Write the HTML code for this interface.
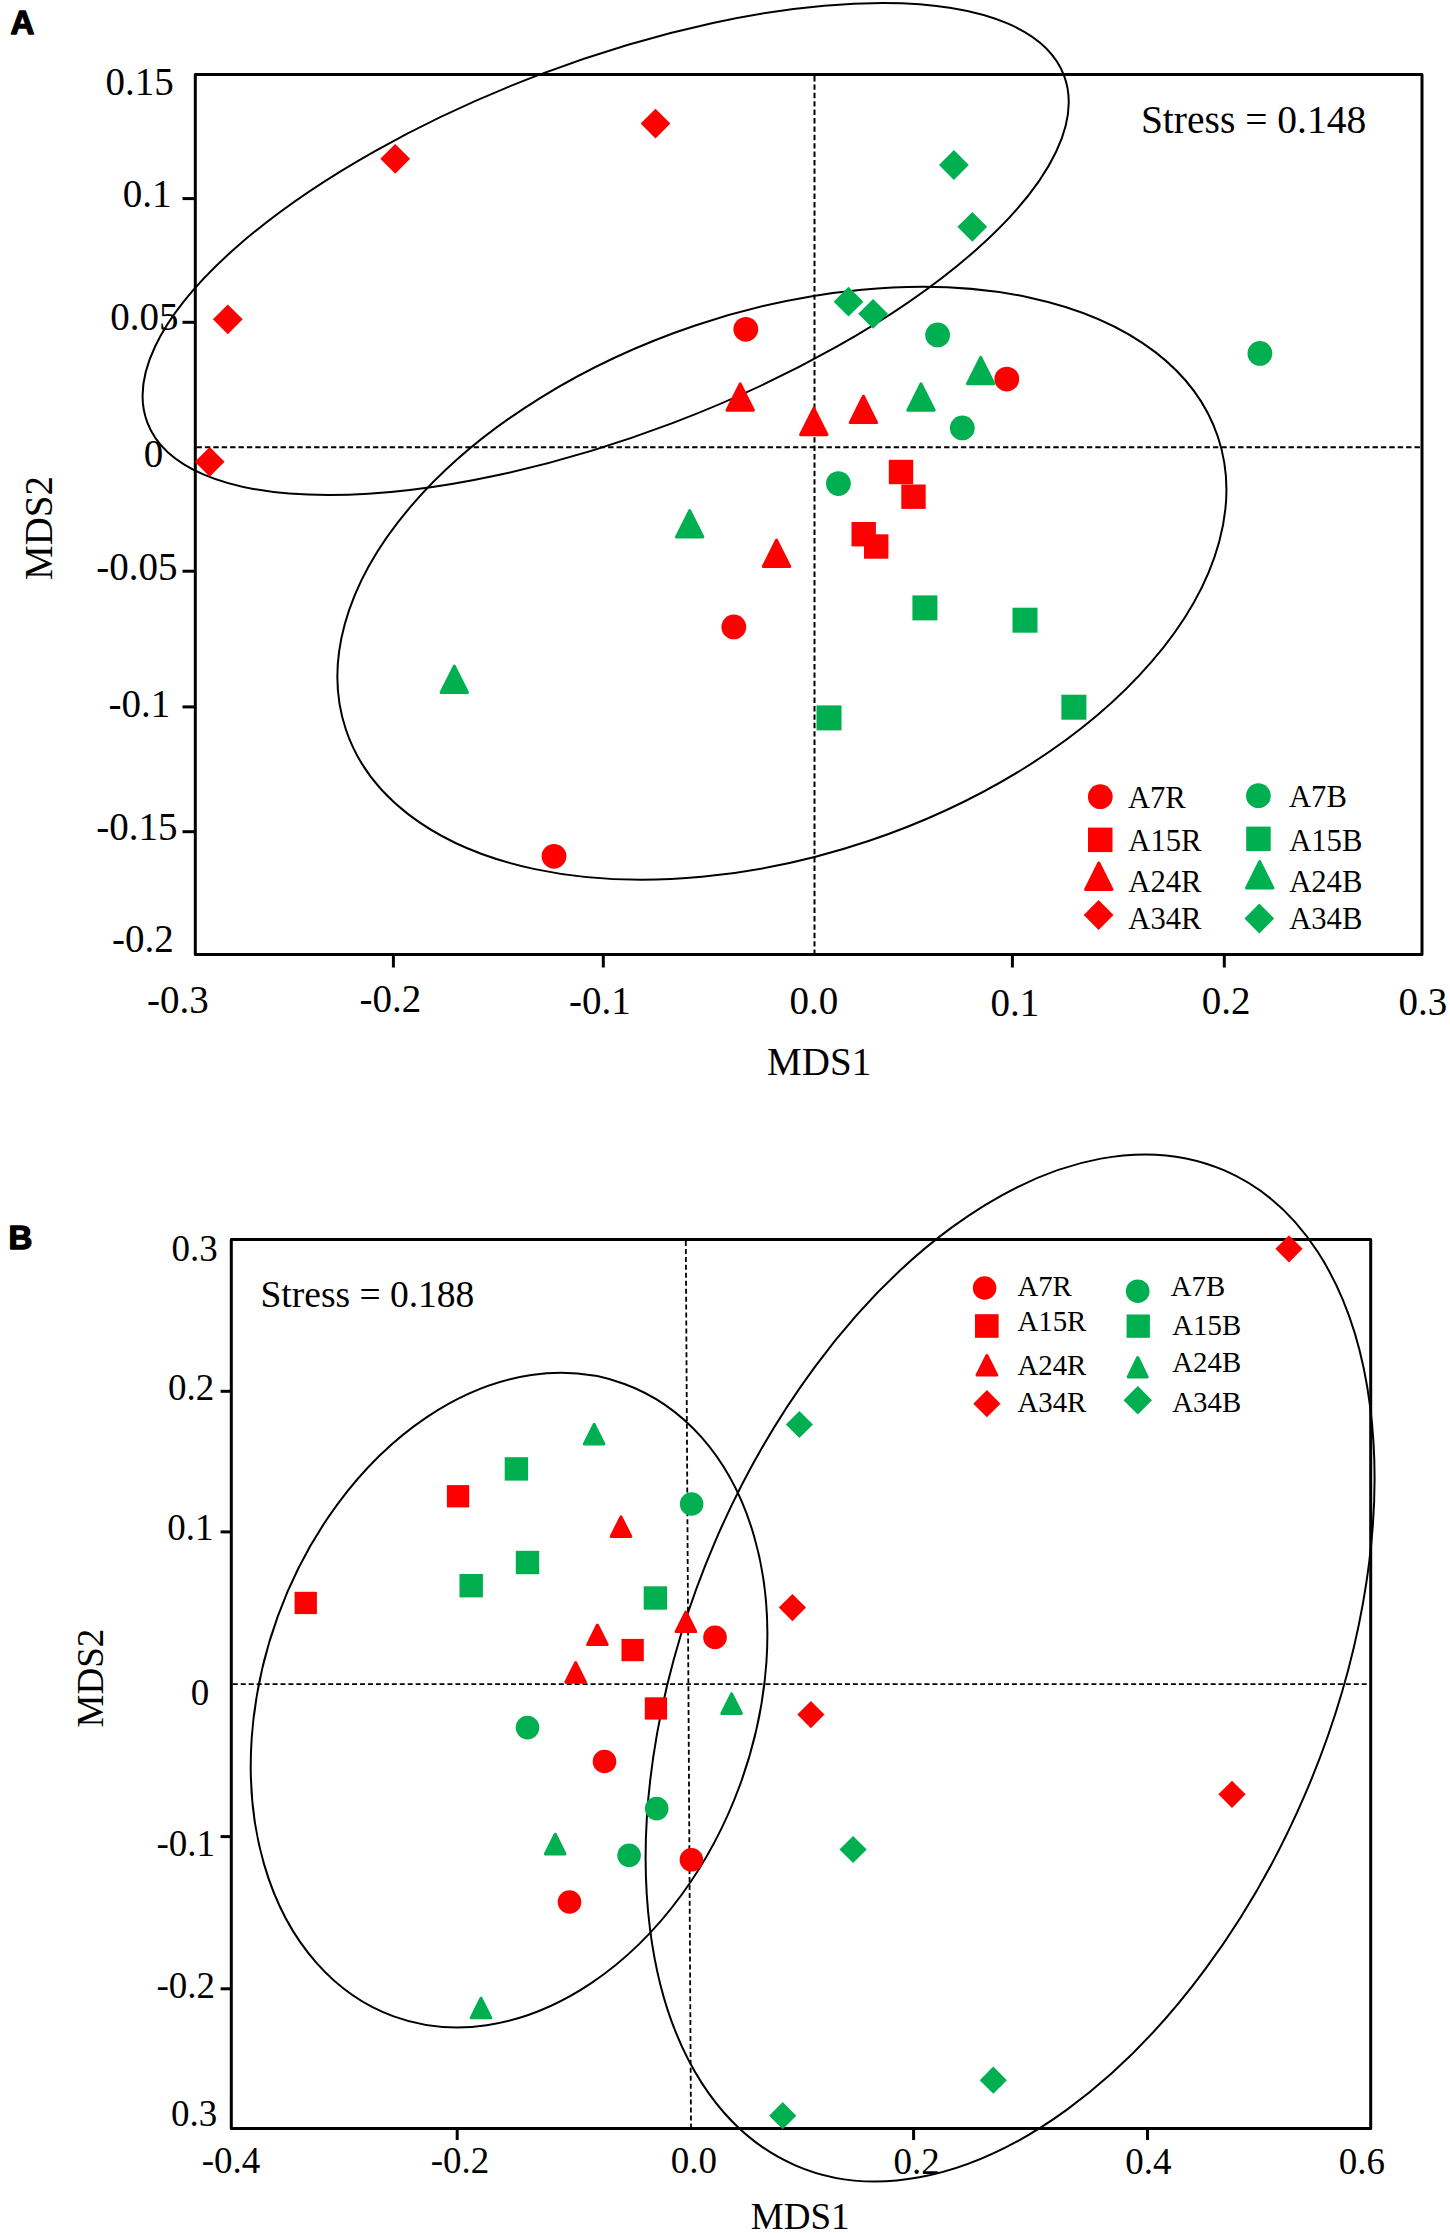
<!DOCTYPE html>
<html><head><meta charset="utf-8"><style>html,body{margin:0;padding:0;background:#fff;}svg{display:block;}</style></head>
<body><svg xmlns="http://www.w3.org/2000/svg" width="1450" height="2233" viewBox="0 0 1450 2233">
<rect width="1450" height="2233" fill="#fff"/>
<text x="10.5" y="33.6" font-family="Liberation Sans" font-size="33" font-weight="bold" stroke="#000" stroke-width="1.4" stroke-linejoin="round">A</text>
<line x1="814.5" y1="76" x2="814.5" y2="953" stroke="#000" stroke-width="2" stroke-dasharray="5.4 3.0"/>
<line x1="196.5" y1="447.3" x2="1420.5" y2="447.3" stroke="#000" stroke-width="2" stroke-dasharray="5.4 3.0"/>
<ellipse cx="605.66" cy="248.99" rx="490.09" ry="186.5" transform="rotate(-20.752 605.66 248.99)" fill="none" stroke="#000" stroke-width="2.0"/>
<ellipse cx="781.9" cy="583.26" rx="459.92" ry="271.92" transform="rotate(-18.576 781.9 583.26)" fill="none" stroke="#000" stroke-width="2.0"/>
<rect x="195.3" y="74.5" width="1226.7" height="880" fill="none" stroke="#000" stroke-width="3" stroke-linejoin="round"/>
<line x1="182.5" y1="198.6" x2="195.3" y2="198.6" stroke="#000" stroke-width="3"/>
<line x1="182.5" y1="322.3" x2="195.3" y2="322.3" stroke="#000" stroke-width="3"/>
<line x1="182.5" y1="571.2" x2="195.3" y2="571.2" stroke="#000" stroke-width="3"/>
<line x1="182.5" y1="706.9" x2="195.3" y2="706.9" stroke="#000" stroke-width="3"/>
<line x1="182.5" y1="831.7" x2="195.3" y2="831.7" stroke="#000" stroke-width="3"/>
<line x1="393.4" y1="954.5" x2="393.4" y2="967.5" stroke="#000" stroke-width="3"/>
<line x1="603.3" y1="954.5" x2="603.3" y2="967.5" stroke="#000" stroke-width="3"/>
<line x1="1012.4" y1="954.5" x2="1012.4" y2="967.5" stroke="#000" stroke-width="3"/>
<line x1="1224.3" y1="954.5" x2="1224.3" y2="967.5" stroke="#000" stroke-width="3"/>
<text x="105.6" y="94.8" font-family="Liberation Serif" font-size="39" font-weight="normal">0.15</text>
<text x="122.8" y="207.2" font-family="Liberation Serif" font-size="39" font-weight="normal">0.1</text>
<text x="110.3" y="330.2" font-family="Liberation Serif" font-size="39" font-weight="normal">0.05</text>
<text x="143.8" y="466.5" font-family="Liberation Serif" font-size="39" font-weight="normal">0</text>
<text x="96.2" y="580.0" font-family="Liberation Serif" font-size="39" font-weight="normal">-0.05</text>
<text x="108.5" y="716.6" font-family="Liberation Serif" font-size="39" font-weight="normal">-0.1</text>
<text x="96.2" y="840.0" font-family="Liberation Serif" font-size="39" font-weight="normal">-0.15</text>
<text x="112.0" y="951.5" font-family="Liberation Serif" font-size="39" font-weight="normal">-0.2</text>
<text x="147.0" y="1012.8" font-family="Liberation Serif" font-size="39" font-weight="normal">-0.3</text>
<text x="359.5" y="1011.8" font-family="Liberation Serif" font-size="39" font-weight="normal">-0.2</text>
<text x="569.0" y="1014.1" font-family="Liberation Serif" font-size="39" font-weight="normal">-0.1</text>
<text x="789.6" y="1013.9" font-family="Liberation Serif" font-size="39" font-weight="normal">0.0</text>
<text x="990.6" y="1015.6" font-family="Liberation Serif" font-size="39" font-weight="normal">0.1</text>
<text x="1201.7" y="1014.2" font-family="Liberation Serif" font-size="39" font-weight="normal">0.2</text>
<text x="1398.5" y="1014.8" font-family="Liberation Serif" font-size="39" font-weight="normal">0.3</text>
<text x="767.1" y="1075.2" font-family="Liberation Serif" font-size="39" font-weight="normal">MDS1</text>
<text transform="translate(39.6,528.5) rotate(-90)" x="-51.5" y="12.6" font-family="Liberation Serif" font-size="39">MDS2</text>
<text x="1140.9" y="133.3" font-family="Liberation Serif" font-size="39.5" font-weight="normal">Stress = 0.148</text>
<path d="M395.2,143.9L410.1,158.8L395.2,173.7L380.3,158.8Z" fill="#ff0000"/>
<path d="M655.5,108.7L670.4,123.6L655.5,138.5L640.6,123.6Z" fill="#ff0000"/>
<path d="M227.8,304.4L242.7,319.3L227.8,334.2L212.9,319.3Z" fill="#ff0000"/>
<path d="M209.7,446.9L224.6,461.8L209.7,476.7L194.8,461.8Z" fill="#ff0000"/>
<circle cx="745.8" cy="329.3" r="12.4" fill="#ff0000"/>
<circle cx="1006.8" cy="379.1" r="12.4" fill="#ff0000"/>
<circle cx="733.8" cy="626.9" r="12.4" fill="#ff0000"/>
<circle cx="554" cy="856.3" r="12.4" fill="#ff0000"/>
<path d="M740.2,383.8L753.4,410.2L727.0,410.2Z" fill="#ff0000" stroke="#ff0000" stroke-width="3" stroke-linejoin="round"/>
<path d="M863.4,396.2L876.6,422.6L850.2,422.6Z" fill="#ff0000" stroke="#ff0000" stroke-width="3" stroke-linejoin="round"/>
<path d="M813.8,408.3L827.0,434.7L800.6,434.7Z" fill="#ff0000" stroke="#ff0000" stroke-width="3" stroke-linejoin="round"/>
<path d="M776.5,540.1L789.7,566.5L763.3,566.5Z" fill="#ff0000" stroke="#ff0000" stroke-width="3" stroke-linejoin="round"/>
<rect x="888.8" y="459.8" width="24.4" height="24.4" fill="#ff0000"/>
<rect x="901.3" y="484.5" width="24.4" height="24.4" fill="#ff0000"/>
<rect x="851.5" y="522.0" width="24.4" height="24.4" fill="#ff0000"/>
<rect x="864.0" y="534.3" width="24.4" height="24.4" fill="#ff0000"/>
<path d="M953.9,150.1L968.8,165.0L953.9,179.9L939.0,165.0Z" fill="#00b050"/>
<path d="M972.3,211.9L987.2,226.8L972.3,241.7L957.4,226.8Z" fill="#00b050"/>
<path d="M848.5,286.8L863.4,301.7L848.5,316.6L833.6,301.7Z" fill="#00b050"/>
<path d="M873.1,298.9L888.0,313.8L873.1,328.7L858.2,313.8Z" fill="#00b050"/>
<circle cx="937.6" cy="334.9" r="12.4" fill="#00b050"/>
<circle cx="1259.9" cy="353.4" r="12.4" fill="#00b050"/>
<circle cx="962.3" cy="427.9" r="12.4" fill="#00b050"/>
<circle cx="838.4" cy="483.6" r="12.4" fill="#00b050"/>
<path d="M980.7,357.3L993.9,383.7L967.5,383.7Z" fill="#00b050" stroke="#00b050" stroke-width="3" stroke-linejoin="round"/>
<path d="M921.0,383.8L934.2,410.2L907.8,410.2Z" fill="#00b050" stroke="#00b050" stroke-width="3" stroke-linejoin="round"/>
<path d="M689.7,510.6L702.9,537.0L676.5,537.0Z" fill="#00b050" stroke="#00b050" stroke-width="3" stroke-linejoin="round"/>
<path d="M454.3,666.1L467.5,692.5L441.1,692.5Z" fill="#00b050" stroke="#00b050" stroke-width="3" stroke-linejoin="round"/>
<rect x="912.4" y="595.4" width="25" height="25" fill="#00b050"/>
<rect x="1012.5" y="607.7" width="25" height="25" fill="#00b050"/>
<rect x="816.5" y="705.4" width="25" height="25" fill="#00b050"/>
<rect x="1061.4" y="694.7" width="25" height="25" fill="#00b050"/>
<circle cx="1100.3" cy="796.7" r="12.4" fill="#ff0000"/>
<circle cx="1258.4" cy="795.7" r="12.4" fill="#00b050"/>
<rect x="1088.0" y="827.6" width="24.5" height="24.5" fill="#ff0000"/>
<rect x="1246.2" y="826.6" width="24.5" height="24.5" fill="#00b050"/>
<path d="M1098.8,863.0L1112.0,889.4L1085.6,889.4Z" fill="#ff0000" stroke="#ff0000" stroke-width="3" stroke-linejoin="round"/>
<path d="M1259.7,861.6L1272.9,888.0L1246.5,888.0Z" fill="#00b050" stroke="#00b050" stroke-width="3" stroke-linejoin="round"/>
<path d="M1098.6,900.1L1113.5,915.0L1098.6,929.9L1083.7,915.0Z" fill="#ff0000"/>
<path d="M1259.3,903.6L1274.2,918.5L1259.3,933.4L1244.4,918.5Z" fill="#00b050"/>
<text x="1127.9" y="808.2" font-family="Liberation Serif" font-size="30.6" font-weight="normal">A7R</text>
<text x="1128.3" y="850.7" font-family="Liberation Serif" font-size="30.6" font-weight="normal">A15R</text>
<text x="1128.3" y="891.7" font-family="Liberation Serif" font-size="30.6" font-weight="normal">A24R</text>
<text x="1128.3" y="929.3" font-family="Liberation Serif" font-size="30.6" font-weight="normal">A34R</text>
<text x="1289.0" y="806.8" font-family="Liberation Serif" font-size="30.6" font-weight="normal">A7B</text>
<text x="1289.2" y="850.7" font-family="Liberation Serif" font-size="30.6" font-weight="normal">A15B</text>
<text x="1289.2" y="891.7" font-family="Liberation Serif" font-size="30.6" font-weight="normal">A24B</text>
<text x="1289.2" y="929.3" font-family="Liberation Serif" font-size="30.6" font-weight="normal">A34B</text>
<text x="8.4" y="1248.9" font-family="Liberation Sans" font-size="33" font-weight="bold" stroke="#000" stroke-width="1.4" stroke-linejoin="round">B</text>
<line x1="685.8" y1="1241" x2="691" y2="2127" stroke="#000" stroke-width="1.8" stroke-dasharray="5.0 2.95"/>
<line x1="232.8" y1="1684.2" x2="1369" y2="1684.2" stroke="#000" stroke-width="1.8" stroke-dasharray="5.0 2.95"/>
<ellipse cx="509.06" cy="1700.17" rx="246.01" ry="336.62" transform="rotate(-159.948 509.06 1700.17)" fill="none" stroke="#000" stroke-width="2.0"/>
<ellipse cx="1010.09" cy="1667.98" rx="541.76" ry="320.93" transform="rotate(-66.7 1010.09 1667.98)" fill="none" stroke="#000" stroke-width="2.0"/>
<rect x="231.3" y="1239.6" width="1139.4" height="889" fill="none" stroke="#000" stroke-width="3" stroke-linejoin="round"/>
<line x1="220.6" y1="1391.3" x2="231.3" y2="1391.3" stroke="#000" stroke-width="3"/>
<line x1="220.6" y1="1531.9" x2="231.3" y2="1531.9" stroke="#000" stroke-width="3"/>
<line x1="220.6" y1="1836.6" x2="231.3" y2="1836.6" stroke="#000" stroke-width="3"/>
<line x1="220.6" y1="1988.8" x2="231.3" y2="1988.8" stroke="#000" stroke-width="3"/>
<line x1="457.2" y1="2128.6" x2="457.2" y2="2140" stroke="#000" stroke-width="3"/>
<line x1="913.6" y1="2128.6" x2="913.6" y2="2140" stroke="#000" stroke-width="3"/>
<line x1="1147.5" y1="2128.6" x2="1147.5" y2="2140" stroke="#000" stroke-width="3"/>
<text x="171.5" y="1260.5" font-family="Liberation Serif" font-size="37" font-weight="normal">0.3</text>
<text x="168.1" y="1400.1" font-family="Liberation Serif" font-size="37" font-weight="normal">0.2</text>
<text x="167.2" y="1540.0" font-family="Liberation Serif" font-size="37" font-weight="normal">0.1</text>
<text x="190.8" y="1705.2" font-family="Liberation Serif" font-size="37" font-weight="normal">0</text>
<text x="156.4" y="1855.7" font-family="Liberation Serif" font-size="37" font-weight="normal">-0.1</text>
<text x="156.4" y="1998.2" font-family="Liberation Serif" font-size="37" font-weight="normal">-0.2</text>
<text x="171.0" y="2126.4" font-family="Liberation Serif" font-size="37" font-weight="normal">0.3</text>
<text x="201.8" y="2173.1" font-family="Liberation Serif" font-size="37" font-weight="normal">-0.4</text>
<text x="430.8" y="2173.1" font-family="Liberation Serif" font-size="37" font-weight="normal">-0.2</text>
<text x="670.8" y="2173.1" font-family="Liberation Serif" font-size="37" font-weight="normal">0.0</text>
<text x="893.6" y="2173.7" font-family="Liberation Serif" font-size="37" font-weight="normal">0.2</text>
<text x="1125.2" y="2173.7" font-family="Liberation Serif" font-size="37" font-weight="normal">0.4</text>
<text x="1338.8" y="2173.7" font-family="Liberation Serif" font-size="37" font-weight="normal">0.6</text>
<text x="750.8" y="2229.4" font-family="Liberation Serif" font-size="37" font-weight="normal">MDS1</text>
<text transform="translate(91.0,1678.6) rotate(-90)" x="-48.9" y="12.1" font-family="Liberation Serif" font-size="37">MDS2</text>
<text x="260.5" y="1306.8" font-family="Liberation Serif" font-size="37.5" font-weight="normal">Stress = 0.188</text>
<rect x="446.9" y="1485.1" width="22.3" height="22.3" fill="#ff0000"/>
<rect x="294.6" y="1591.8" width="22.3" height="22.3" fill="#ff0000"/>
<rect x="621.5" y="1638.9" width="22.3" height="22.3" fill="#ff0000"/>
<rect x="644.8" y="1697.3" width="22.3" height="22.3" fill="#ff0000"/>
<rect x="504.7" y="1457.2" width="23.4" height="23.4" fill="#00b050"/>
<rect x="515.8" y="1550.8" width="23.4" height="23.4" fill="#00b050"/>
<rect x="459.5" y="1574.0" width="23.4" height="23.4" fill="#00b050"/>
<rect x="643.7" y="1586.3" width="23.4" height="23.4" fill="#00b050"/>
<path d="M621.0,1516.8L630.8,1536.4L611.2,1536.4Z" fill="#ff0000" stroke="#ff0000" stroke-width="3" stroke-linejoin="round"/>
<path d="M685.9,1612.0L695.7,1631.6L676.1,1631.6Z" fill="#ff0000" stroke="#ff0000" stroke-width="3" stroke-linejoin="round"/>
<path d="M597.4,1625.0L607.2,1644.6L587.6,1644.6Z" fill="#ff0000" stroke="#ff0000" stroke-width="3" stroke-linejoin="round"/>
<path d="M575.6,1662.6L585.4,1682.2L565.8,1682.2Z" fill="#ff0000" stroke="#ff0000" stroke-width="3" stroke-linejoin="round"/>
<path d="M594.1,1424.4L603.9,1444.0L584.3,1444.0Z" fill="#00b050" stroke="#00b050" stroke-width="3" stroke-linejoin="round"/>
<path d="M731.6,1693.8L741.4,1713.4L721.8,1713.4Z" fill="#00b050" stroke="#00b050" stroke-width="3" stroke-linejoin="round"/>
<path d="M555.2,1834.2L565.0,1853.9L545.4,1853.9Z" fill="#00b050" stroke="#00b050" stroke-width="3" stroke-linejoin="round"/>
<path d="M481.0,1998.2L490.8,2017.8L471.2,2017.8Z" fill="#00b050" stroke="#00b050" stroke-width="3" stroke-linejoin="round"/>
<circle cx="691.6" cy="1504" r="11.8" fill="#00b050"/>
<circle cx="527.5" cy="1727.6" r="11.8" fill="#00b050"/>
<circle cx="656.7" cy="1808.6" r="11.8" fill="#00b050"/>
<circle cx="629.1" cy="1855.3" r="11.8" fill="#00b050"/>
<circle cx="715" cy="1637.4" r="11.8" fill="#ff0000"/>
<circle cx="604.5" cy="1761.5" r="11.8" fill="#ff0000"/>
<circle cx="691.4" cy="1859.8" r="11.8" fill="#ff0000"/>
<circle cx="569.5" cy="1902" r="11.8" fill="#ff0000"/>
<path d="M1289.0,1235.2L1302.6,1248.8L1289.0,1262.4L1275.4,1248.8Z" fill="#ff0000"/>
<path d="M792.4,1594.0L806.0,1607.6L792.4,1621.2L778.8,1607.6Z" fill="#ff0000"/>
<path d="M810.9,1701.0L824.5,1714.6L810.9,1728.2L797.3,1714.6Z" fill="#ff0000"/>
<path d="M1232.0,1780.7L1245.6,1794.3L1232.0,1807.9L1218.4,1794.3Z" fill="#ff0000"/>
<path d="M799.4,1410.9L813.0,1424.5L799.4,1438.1L785.8,1424.5Z" fill="#00b050"/>
<path d="M853.1,1835.9L866.7,1849.5L853.1,1863.1L839.5,1849.5Z" fill="#00b050"/>
<path d="M993.3,2066.6L1006.9,2080.2L993.3,2093.8L979.7,2080.2Z" fill="#00b050"/>
<path d="M782.7,2102.1L796.3,2115.7L782.7,2129.3L769.1,2115.7Z" fill="#00b050"/>
<circle cx="984.6" cy="1288" r="11.8" fill="#ff0000"/>
<circle cx="1137.7" cy="1291.2" r="11.8" fill="#00b050"/>
<rect x="975.0" y="1314.2" width="23.6" height="23.6" fill="#ff0000"/>
<rect x="1126.6" y="1314.5" width="23.3" height="23.3" fill="#00b050"/>
<path d="M986.9,1355.5L996.8,1375.1L977.0,1375.1Z" fill="#ff0000" stroke="#ff0000" stroke-width="3" stroke-linejoin="round"/>
<path d="M1137.7,1357.5L1147.2,1376.9L1128.2,1376.9Z" fill="#00b050" stroke="#00b050" stroke-width="3" stroke-linejoin="round"/>
<path d="M986.9,1390.1L1000.5,1403.7L986.9,1417.3L973.3,1403.7Z" fill="#ff0000"/>
<path d="M1137.8,1386.0L1152.0,1400.2L1137.8,1414.4L1123.5,1400.2Z" fill="#00b050"/>
<text x="1017.4" y="1296.0" font-family="Liberation Serif" font-size="28.8" font-weight="normal">A7R</text>
<text x="1017.5" y="1330.6" font-family="Liberation Serif" font-size="28.8" font-weight="normal">A15R</text>
<text x="1017.5" y="1375.0" font-family="Liberation Serif" font-size="28.8" font-weight="normal">A24R</text>
<text x="1017.5" y="1411.5" font-family="Liberation Serif" font-size="28.8" font-weight="normal">A34R</text>
<text x="1170.8" y="1296.0" font-family="Liberation Serif" font-size="28.8" font-weight="normal">A7B</text>
<text x="1172.3" y="1334.7" font-family="Liberation Serif" font-size="28.8" font-weight="normal">A15B</text>
<text x="1172.3" y="1372.1" font-family="Liberation Serif" font-size="28.8" font-weight="normal">A24B</text>
<text x="1172.3" y="1411.5" font-family="Liberation Serif" font-size="28.8" font-weight="normal">A34B</text>
</svg></body></html>
